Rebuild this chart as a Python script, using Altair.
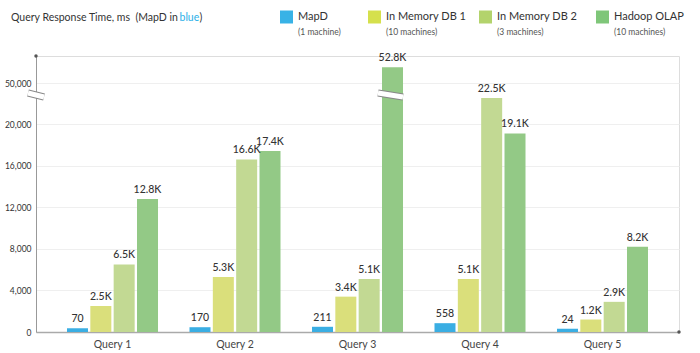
import altair as alt
import pandas as pd

queries = ["Query 1", "Query 2", "Query 3", "Query 4", "Query 5"]
systems = ["MapD", "In Memory DB 1", "In Memory DB 2", "Hadoop OLAP"]
machines = ["(1 machine)", "(10 machines)", "(3 machines)", "(10 machines)"]
mapd = [70, 170, 211, 558, 24]
imdb1 = [2500, 5300, 3400, 5100, 1200]
imdb2 = [6500, 16600, 5100, 22500, 2900]
hadoop = [12800, 17400, 52800, 19100, 8200]
y_ticks = [0, 4000, 8000, 12000, 16000, 20000, 50000]

bar_colors = ["#3aaee3", "#dadf7b", "#c2d993", "#93c986"]
legend_colors = ["#38b2e6", "#d5e04c", "#b3d36c", "#7fc679"]

def fmt(v):
    return str(v) if v < 1000 else f"{v/1000:.1f}K"

rows = []
for s, vals in zip(systems, [mapd, imdb1, imdb2, hadoop]):
    for q, v in zip(queries, vals):
        rows.append({"query": q, "system": s, "value": v, "label": fmt(v)})
df = pd.DataFrame(rows)

FONT = "Lato"
PL, PT = 36, 56  # plot origin in page pixels

yscale = alt.Scale(domain=[0, 22600, 49000, 54800], range=[276, 41, 32.7, 0],
                   nice=False, zero=False)
xscale = alt.Scale(paddingInner=0.257, paddingOuter=0.253)

base = alt.Chart(df).transform_calculate(
    h="datum.value < 1000 ? datum.value + 290 : datum.value"
)

bars = base.mark_bar().encode(
    x=alt.X("query:N", sort=queries, scale=xscale,
            axis=alt.Axis(title=None, labelAngle=0, ticks=False, labelPadding=7,
                          labelFontSize=10.5, labelColor="#444", domainColor="#aaa",
                          domainWidth=1.5, labelFont=FONT)),
    xOffset=alt.XOffset("system:N", sort=systems, scale=alt.Scale(paddingInner=0.1)),
    y=alt.Y("h:Q", scale=yscale,
            axis=alt.Axis(title=None, values=y_ticks, format=",d", ticks=False,
                          labelPadding=5, labelFontSize=8.5, labelColor="#333",
                          domainColor="#999", gridColor="#efefef", labelFont=FONT)),
    color=alt.Color("system:N", sort=systems,
                    scale=alt.Scale(domain=systems, range=bar_colors), legend=None),
)

labels = base.mark_text(baseline="bottom", dy=-4, fontSize=10.5, fontWeight=500,
                        color="#333", font=FONT).encode(
    x=alt.X("query:N", sort=queries, scale=xscale),
    xOffset=alt.XOffset("system:N", sort=systems, scale=alt.Scale(paddingInner=0.1)),
    y=alt.Y("h:Q", scale=yscale),
    text="label:N",
)

one = alt.Chart(pd.DataFrame({"a": [0]}))

def brk(x1, y1, x2, y2):
    g = one.mark_rule(color="#888", strokeWidth=7).encode(
        x=alt.value(x1), x2=alt.value(x2), y=alt.value(y1), y2=alt.value(y2))
    w = one.mark_rule(color="white", strokeWidth=5).encode(
        x=alt.value(x1), x2=alt.value(x2), y=alt.value(y1), y2=alt.value(y2))
    return [g, w]

decor = []
decor += brk(-8, 37, 8, 41)
decor += brk(342, 37, 367, 41)
decor.append(one.mark_point(filled=True, size=12, color="#555", opacity=1).encode(
    x=alt.value(0), y=alt.value(0)))
decor.append(one.mark_point(filled=True, size=12, color="#555", opacity=1).encode(
    x=alt.value(643), y=alt.value(276)))

# title
decor.append(one.mark_text(align="left", baseline="middle", fontSize=10.5, color="#333",
                           font=FONT).encode(
    x=alt.value(11 - PL), y=alt.value(18 - PT),
    text=alt.value("Query Response Time, ms\u00a0\u00a0(MapD in")))
decor.append(one.mark_text(align="left", baseline="middle", fontSize=10.5, color="#2bb0e8",
                           font=FONT).encode(
    x=alt.value(179.5 - PL), y=alt.value(18 - PT), text=alt.value("blue")))
decor.append(one.mark_text(align="left", baseline="middle", fontSize=10.5, color="#333",
                           font=FONT).encode(
    x=alt.value(199.5 - PL), y=alt.value(18 - PT), text=alt.value(")")))

# legend
legend_sq_x = [286.5, 374.5, 485.5, 602.5]
legend_tx_x = [298, 386, 497, 614]
for name, sub, col, sx, tx in zip(systems, machines, legend_colors, legend_sq_x, legend_tx_x):
    decor.append(one.mark_square(size=169, color=col, opacity=1).encode(
        x=alt.value(sx - PL), y=alt.value(17 - PT)))
    decor.append(one.mark_text(align="left", baseline="middle", fontSize=11, color="#333",
                               font=FONT).encode(
        x=alt.value(tx - PL), y=alt.value(17 - PT), text=alt.value(name)))
    decor.append(one.mark_text(align="left", baseline="middle", fontSize=8.5, color="#555",
                               font=FONT).encode(
        x=alt.value(tx - PL), y=alt.value(32 - PT), text=alt.value(sub)))

chart = alt.layer(bars, labels, *decor).properties(
    width=643, height=276,
    autosize=alt.AutoSizeParams(type="none"),
    padding={"left": PL, "top": PT, "right": 21, "bottom": 21},
).configure_view(stroke=None).configure(font=FONT)

chart.save("out.html", embed_options={"renderer": "svg", "actions": False})
